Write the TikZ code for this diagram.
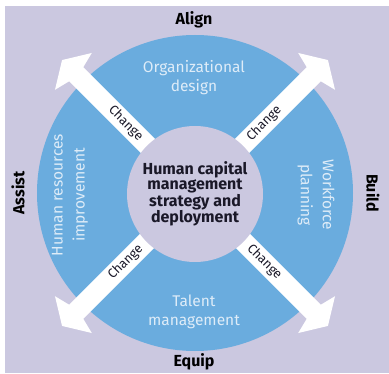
\documentclass[tikz,border=0pt]{standalone}
\usepackage{fontspec}
\setmainfont{Fira Sans}
\definecolor{bglav}{RGB}{203,200,224}
\definecolor{ringblue}{RGB}{106,172,222}
\definecolor{paletext}{RGB}{222,236,248}
\definecolor{hubtext}{RGB}{26,24,40}
\begin{document}
\begin{tikzpicture}[x=1pt, y=1pt,
    axis/.style={font=\fontsize{16}{16}\selectfont\bfseries, text=black, inner sep=0pt},
    area/.style={font=\fontsize{15.5}{19}\selectfont, text=paletext, align=center, inner sep=0pt},
    chg/.style={font=\fontsize{13}{13}\selectfont, text=hubtext, inner sep=0pt}]
    \useasboundingbox (0,0) rectangle (389,373);
    \fill[white] (0,0) rectangle (389,373);
    \fill[bglav] (5,0) rectangle (389,367);
    \coordinate (c) at (195,180);
    \fill[ringblue] (c) circle[radius=158];
    \foreach \a/\r in {45/45, 135/-45, 225/45, 315/-45} {
        \fill[white, shift={(c)}, rotate=\a] (0,-10) -- (168,-10) -- (172,-26) -- (188,0)
            -- (172,26) -- (168,10) -- (0,10) -- cycle;
        \node[chg, rotate=\r] (chg\a) at ([shift={(\a:98)}]c) {Change};
    }
    \node[circle, fill=bglav, minimum size=136pt, inner sep=0pt, align=center, text=hubtext,
        font=\fontsize{16}{15}\selectfont\bfseries] (hub) at ([yshift=-1]c)
        {Human capital\\management\\strategy and\\deployment};
    \node[axis] (align) at (194,353) {Align};
    \node[axis] (equip) at (194,11) {Equip};
    \node[axis, rotate=90] (assist) at (18,180) {Assist};
    \node[axis, rotate=-90] (build) at (373,180) {Build};
    \node[area] (org) at (194,295) {Organizational\\design};
    \node[area] (talent) at (194,61) {Talent\\management};
    \node[area, rotate=90, font=\fontsize{15.5}{22}\selectfont] (hri) at (70,178) {Human resources\\improvement};
    \node[area, rotate=-90, font=\fontsize{15.5}{22}\selectfont] (wfp) at (316,178) {Workforce\\planning};
\end{tikzpicture}
\end{document}
